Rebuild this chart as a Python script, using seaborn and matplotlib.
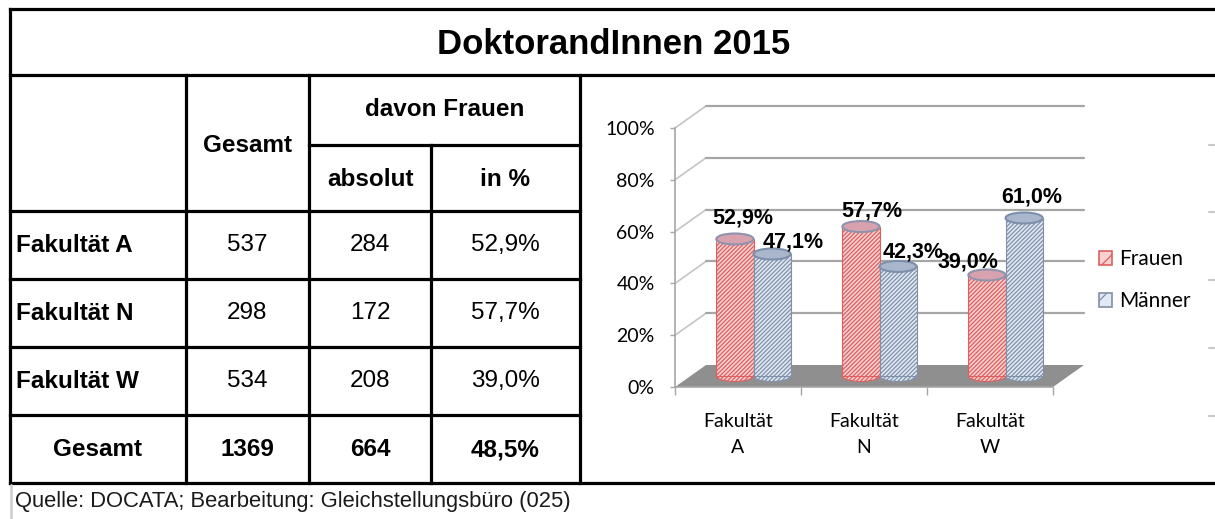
import numpy as np
import pandas as pd
import matplotlib.pyplot as plt
from matplotlib.patches import Ellipse, Polygon, Patch
import seaborn as sns

# table data
faculties = ['Fakultät A', 'Fakultät N', 'Fakultät W']
total = [537, 298, 534]
women_abs = [284, 172, 208]
women_pct = [52.9, 57.7, 39.0]
sum_label = 'Gesamt'
sum_total = 1369
sum_women = 664
sum_pct = 48.5

# chart data
x_labels = ['Fakultät\nA', 'Fakultät\nN', 'Fakultät\nW']
series = ['Frauen', 'Männer']
frauen = [52.9, 57.7, 39.0]
maenner = [47.1, 42.3, 61.0]


def pct(v):
    return f'{v:.1f}'.replace('.', ',') + '%'


sns.set_style('white')
plt.rcParams['font.family'] = ['Liberation Sans', 'DejaVu Sans']
plt.rcParams['text.color'] = 'black'
plt.rcParams['xtick.labelcolor'] = 'black'
plt.rcParams['ytick.labelcolor'] = 'black'
plt.rcParams['hatch.linewidth'] = 0.9

W, H = 1215, 519
fig = plt.figure(figsize=(W / 100, H / 100), dpi=100)

# ---- table, drawn in pixel coordinates
tab = fig.add_axes([0, 0, 1, 1])
tab.set_xlim(0, W)
tab.set_ylim(H, 0)
tab.axis('off')

lw = 2.3
fs = 17.5


def hline(y, x0, x1):
    tab.plot([x0, x1], [y, y], color='black', lw=lw, solid_capstyle='projecting')


def vline(x, y0, y1):
    tab.plot([x, x], [y0, y1], color='black', lw=lw, solid_capstyle='projecting')


hline(9, 10, W)
hline(75, 10, W)
hline(145, 309, 580)
for y in [211, 279, 347, 415]:
    hline(y, 10, 580)
hline(483, 10, W)
vline(10, 9, 483)
vline(186, 75, 483)
vline(309, 75, 483)
vline(431, 145, 483)
vline(580, 75, 483)

tab.text(614, 44, 'DoktorandInnen 2015', ha='center', va='center', fontsize=25, fontweight='bold')
tab.text(247, 146, 'Gesamt', ha='center', va='center', fontsize=fs, fontweight='bold')
tab.text(445, 110, 'davon Frauen', ha='center', va='center', fontsize=fs, fontweight='bold')
tab.text(370, 180, 'absolut', ha='center', va='center', fontsize=fs, fontweight='bold')
tab.text(505, 180, 'in %', ha='center', va='center', fontsize=fs, fontweight='bold')

row_y = [245, 313, 381]
for y, name, t, w, p in zip(row_y, faculties, total, women_abs, women_pct):
    tab.text(16, y, name, ha='left', va='center', fontsize=fs, fontweight='bold')
    tab.text(247, y, str(t), ha='center', va='center', fontsize=fs)
    tab.text(370, y, str(w), ha='center', va='center', fontsize=fs)
    tab.text(505, y, pct(p), ha='center', va='center', fontsize=fs)

tab.text(98, 450, sum_label, ha='center', va='center', fontsize=fs, fontweight='bold')
tab.text(247, 450, str(sum_total), ha='center', va='center', fontsize=fs, fontweight='bold')
tab.text(370, 450, str(sum_women), ha='center', va='center', fontsize=fs, fontweight='bold')
tab.text(505, 450, pct(sum_pct), ha='center', va='center', fontsize=fs, fontweight='bold')

tab.text(15, 501, 'Quelle: DOCATA; Bearbeitung: Gleichstellungsbüro (025)',
         ha='left', va='center', fontsize=15.8, color='#1a1a1a')
tab.plot([11, 11], [485, H], color='#d0d0d0', lw=2)
for y in [145, 212, 280, 348, 416]:
    tab.plot([1209, W], [y, y], color='#c8c8c8', lw=1.5)

# ---- 3D-looking column chart
ax = fig.add_axes([675 / W, (H - 387) / H, 378 / W, 259 / H])
df = pd.DataFrame({
    'Fakultät': x_labels * 2,
    'Geschlecht': [series[0]] * 3 + [series[1]] * 3,
    'Anteil': frauen + maenner,
})
sns.barplot(data=df, x='Fakultät', y='Anteil', hue='Geschlecht', order=x_labels,
            hue_order=series, palette=['#f8cccc', '#dbe5f1'], saturation=1,
            width=0.59, gap=0, errorbar=None, legend=False, ax=ax)
ax.set_xlim(-0.5, 2.5)
ax.set_ylim(0, 100)

px_x = 378 / 3
px_y = 259 / 100
ddx = 31 / px_x
ddy = 22 / px_y
cap_h = 11 / px_y

grid_c = '#a6a6a6'
# floor and back wall
ax.add_patch(Polygon([(-0.5, 0), (2.5, 0), (2.5 + ddx, ddy), (-0.5 + ddx, ddy)],
                     closed=True, facecolor='#8f8f8f', edgecolor='none',
                     zorder=1, clip_on=False))
for v in range(20, 101, 20):
    ax.plot([-0.5, -0.5 + ddx], [v, v + ddy], color='#c4c4c4', lw=1.2,
            zorder=0.5, clip_on=False)
    ax.plot([-0.5 + ddx, 2.5 + ddx], [v + ddy, v + ddy], color=grid_c, lw=1.6,
            zorder=0.5, clip_on=False)

styles = [
    dict(fc='#f9d0d0', hc='#dc6060', cap='#d7a2ad', rim='#8f93ad'),
    dict(fc='#e0e9f4', hc='#8090a8', cap='#a9b6cb', rim='#7d8fab'),
]
label_dx = [[8, 11, -19], [21, 15, 8]]
label_dy = [[-21, -16, -13], [-12, -14, -21]]

for k, (cont, st) in enumerate(zip(ax.containers, styles)):
    for i, bar in enumerate(cont):
        val = bar.get_height()
        bar.set_x(bar.get_x() + ddx / 2)
        bar.set_y(ddy / 2)
        bar.set_facecolor(st['fc'])
        bar.set_edgecolor(st['hc'])
        bar.set_hatch('////////')
        bar.set_linewidth(0.8)
        bar.set_zorder(3)
        bar.set_clip_on(False)
        cx = bar.get_x() + bar.get_width() / 2
        bw = bar.get_width()
        top = ddy / 2 + val
        ax.add_patch(Ellipse((cx, ddy / 2), bw, cap_h, facecolor=st['fc'],
                             edgecolor=st['hc'], hatch='////////', lw=0.8,
                             zorder=2.9, clip_on=False))
        ax.add_patch(Ellipse((cx, top), bw, cap_h, facecolor=st['cap'],
                             edgecolor=st['rim'], lw=1.5, zorder=4, clip_on=False))
        ax.annotate(pct(val), xy=(cx, top), xytext=(label_dx[k][i], -label_dy[k][i]),
                    textcoords='offset pixels', ha='center', va='center',
                    fontsize=15.5, fontweight='bold', zorder=6)

chart_font = ['Lato', 'DejaVu Sans']
ax.set_yticks(np.arange(0, 101, 20))
ax.set_yticklabels([f'{t}%' for t in range(0, 101, 20)], family=chart_font, fontsize=14)
ax.set_xticks([0, 1, 2])
ax.set_xticklabels(x_labels, family=chart_font, fontsize=14, linespacing=1.6)
ax.set_xticks([-0.5, 0.5, 1.5, 2.5], minor=True)
ax.tick_params(axis='y', length=3.6, width=1, color=grid_c, pad=11, left=True)
ax.tick_params(axis='x', which='major', length=0, pad=19)
ax.tick_params(axis='x', which='minor', length=6, width=1, color=grid_c, bottom=True)
ax.set_xlabel('')
ax.set_ylabel('')
for s in ['top', 'right']:
    ax.spines[s].set_visible(False)
for s in ['left', 'bottom']:
    ax.spines[s].set_color(grid_c)
    ax.spines[s].set_linewidth(1.2)
ax.patch.set_alpha(0)

handles = [Patch(facecolor=st['fc'], edgecolor=st['hc'], hatch='/', lw=1.2) for st in styles]
fig.legend(handles, series, loc='center left', bbox_to_anchor=(1080 / W, 1 - 280 / H),
           frameon=False, prop={'family': chart_font, 'size': 15},
           handlelength=0.65, handleheight=0.65, handletextpad=0.35, labelspacing=1.05)

fig.savefig('out.png', dpi=100)
